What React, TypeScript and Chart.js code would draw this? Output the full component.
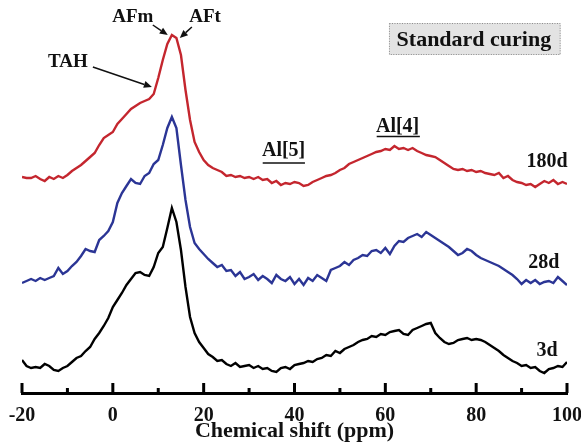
import React, { useEffect, useRef } from "react";
import { Chart, registerables } from "chart.js";

Chart.register(...registerables);

// Chemical shift (ppm) sample positions: -20 .. 100, every 1 ppm
const shifts: number[] = Array.from({ length: 121 }, (_, i) => -20 + i);

// Stacked intensities (arbitrary units, already offset for display)
const series180d: number[] = [
  216, 215, 215, 217, 214, 212, 216, 214, 217, 215,
  218, 222, 225, 228, 232, 236, 240, 248, 255, 258,
  261, 269, 274, 279, 284, 287, 290, 292, 294, 299,
  315, 333, 349, 358, 355, 338, 303, 273, 251, 241,
  233, 228, 225, 223, 221, 217, 218, 216, 217, 215,
  216, 214, 216, 213, 214, 210, 212, 208, 210, 209,
  211, 210, 207, 208, 211, 213, 215, 217, 218, 220,
  223, 225, 229, 231, 233, 235, 237, 239, 241, 242,
  244, 243, 247, 244, 245, 243, 245, 242, 240, 238,
  237, 236, 233, 230, 227, 224, 223, 224, 222, 223,
  221, 222, 220, 219, 218, 220, 215, 217, 213, 211,
  210, 208, 209, 206, 209, 212, 210, 213, 209, 211,
  209,
];

const series28d: number[] = [
  110, 112, 114, 112, 115, 113, 115, 117, 125, 119,
  122, 127, 131, 137, 144, 142, 141, 153, 157, 162,
  171, 190, 200, 207, 214, 210, 209, 217, 220, 229,
  233, 248, 265, 276, 265, 228, 193, 166, 150, 144,
  139, 134, 130, 126, 128, 122, 123, 117, 121, 114,
  116, 119, 113, 117, 114, 110, 118, 114, 112, 116,
  109, 114, 108, 115, 112, 118, 115, 112, 123, 125,
  127, 131, 128, 133, 135, 138, 137, 142, 143, 140,
  145, 139, 147, 152, 151, 155, 157, 159, 156, 161,
  158, 155, 152, 149, 146, 142, 138, 140, 144, 142,
  138, 135, 133, 131, 129, 127, 124, 121, 118, 114,
  109, 113, 110, 113, 109, 111, 112, 110, 116, 112,
  108,
];

const series3d: number[] = [
  33, 27, 25, 26, 25, 29, 27, 23, 22, 25,
  27, 31, 35, 37, 42, 46, 54, 60, 67, 75,
  86, 93, 100, 108, 114, 120, 121, 118, 117, 126,
  140, 146, 165, 185, 171, 143, 106, 76, 60, 51,
  45, 39, 36, 32, 33, 29, 27, 30, 26, 27,
  28, 25, 27, 24, 25, 22, 21, 25, 26, 24,
  28, 29, 30, 32, 31, 34, 35, 38, 37, 42,
  40, 44, 46, 48, 51, 53, 54, 57, 56, 59,
  58, 61, 62, 63, 59, 58, 63, 65, 67, 69,
  70, 60, 55, 51, 49, 50, 53, 54, 55, 53,
  54, 53, 51, 48, 45, 42, 38, 35, 32, 30,
  27, 28, 25, 26, 22, 20, 24, 25, 27, 26,
  31,
];

const seriesNames: string[] = ["180d", "28d", "3d"];
const xTicks: number[] = [-20, 0, 20, 40, 60, 80, 100];
const xMinorTicks: number[] = [-10, 10, 30, 50, 70, 90];
const axisTitle = "Chemical shift (ppm)";
const boxTitle = "Standard curing";

const SERIF = '"Liberation Serif", "Times New Roman", serif';

// Annotation layout (data coordinates)
const textNotes = [
  { text: "AFm", x: 4.4, y: 376, size: 19 },
  { text: "AFt", x: 20.3, y: 376, size: 19 },
  { text: "TAH", x: -9.9, y: 331, size: 19 },
  { text: "Al[5]", x: 37.6, y: 242, size: 20 },
  { text: "Al[4]", x: 62.7, y: 266, size: 20 },
  { text: seriesNames[0], x: 95.6, y: 231, size: 20 },
  { text: seriesNames[1], x: 94.9, y: 130, size: 20 },
  { text: seriesNames[2], x: 95.6, y: 42, size: 20 },
];
const underlines = [
  { x1: 33.0, x2: 42.3, y: 230 },
  { x1: 58.1, x2: 67.6, y: 256.5 },
];
const arrows = [
  { x1: 8.8, y1: 368, x2: 12.1, y2: 358 },
  { x1: 17.4, y1: 366, x2: 14.75, y2: 355 },
  { x1: -4.4, y1: 326, x2: 8.6, y2: 306 },
];
const box = { x1: 60.8, x2: 98.6, y1: 370, y2: 338, tx: 79.5, ty: 353 };

const toPoints = (vals: number[]) => vals.map((v, i) => ({ x: shifts[i], y: v }));

const decorPlugin = {
  id: "decor",
  afterDraw(chart: any) {
    const { ctx, chartArea, scales } = chart;
    const xs = scales.x;
    const ys = scales.y;
    ctx.save();
    // inward ticks
    ctx.strokeStyle = "#000";
    ctx.lineWidth = 3;
    ctx.lineCap = "butt";
    const bottom = chartArea.bottom;
    xTicks.forEach((t) => {
      const px = xs.getPixelForValue(t);
      ctx.beginPath();
      ctx.moveTo(px, bottom);
      ctx.lineTo(px, bottom - 10);
      ctx.stroke();
    });
    xMinorTicks.forEach((t) => {
      const px = xs.getPixelForValue(t);
      ctx.beginPath();
      ctx.moveTo(px, bottom);
      ctx.lineTo(px, bottom - 5);
      ctx.stroke();
    });

    // box
    const bx1 = xs.getPixelForValue(box.x1);
    const bx2 = xs.getPixelForValue(box.x2);
    const by1 = ys.getPixelForValue(box.y1);
    const by2 = ys.getPixelForValue(box.y2);
    ctx.fillStyle = "#e3e3e3";
    ctx.fillRect(bx1, by1, bx2 - bx1, by2 - by1);
    ctx.setLineDash([1, 1.5]);
    ctx.strokeStyle = "#8a8a8a";
    ctx.lineWidth = 1;
    ctx.strokeRect(bx1 + 0.5, by1 + 0.5, bx2 - bx1 - 1, by2 - by1 - 1);
    ctx.setLineDash([]);
    ctx.fillStyle = "#111";
    ctx.font = `bold 22px ${SERIF}`;
    ctx.textAlign = "center";
    ctx.textBaseline = "middle";
    ctx.fillText(boxTitle, xs.getPixelForValue(box.tx), ys.getPixelForValue(box.ty));

    // texts
    textNotes.forEach((n) => {
      ctx.font = `bold ${n.size}px ${SERIF}`;
      ctx.fillText(n.text, xs.getPixelForValue(n.x), ys.getPixelForValue(n.y));
    });

    // underlines
    ctx.strokeStyle = "#111";
    ctx.lineWidth = 1.5;
    underlines.forEach((u) => {
      const y = ys.getPixelForValue(u.y);
      ctx.beginPath();
      ctx.moveTo(xs.getPixelForValue(u.x1), y);
      ctx.lineTo(xs.getPixelForValue(u.x2), y);
      ctx.stroke();
    });

    // arrows
    arrows.forEach((a) => {
      const x1 = xs.getPixelForValue(a.x1);
      const y1 = ys.getPixelForValue(a.y1);
      const x2 = xs.getPixelForValue(a.x2);
      const y2 = ys.getPixelForValue(a.y2);
      const ang = Math.atan2(y2 - y1, x2 - x1);
      const hl = 8;
      const hw = 3.5;
      const bxp = x2 - hl * Math.cos(ang);
      const byp = y2 - hl * Math.sin(ang);
      ctx.strokeStyle = "#111";
      ctx.lineWidth = 1.5;
      ctx.beginPath();
      ctx.moveTo(x1, y1);
      ctx.lineTo(bxp, byp);
      ctx.stroke();
      ctx.fillStyle = "#111";
      ctx.beginPath();
      ctx.moveTo(x2, y2);
      ctx.lineTo(bxp + hw * Math.sin(ang), byp - hw * Math.cos(ang));
      ctx.lineTo(bxp - hw * Math.sin(ang), byp + hw * Math.cos(ang));
      ctx.closePath();
      ctx.fill();
    });
    ctx.restore();
  },
};

export default function App() {
  const canvasRef = useRef<HTMLCanvasElement | null>(null);

  useEffect(() => {
    if (!canvasRef.current) return;
    const chart = new Chart(canvasRef.current, {
      type: "line",
      data: {
        datasets: [
          {
            label: seriesNames[0],
            data: toPoints(series180d),
            borderColor: "#c4262e",
            borderWidth: 2.4,
            pointRadius: 0,
            tension: 0,
          },
          {
            label: seriesNames[1],
            data: toPoints(series28d),
            borderColor: "#2b3595",
            borderWidth: 2.4,
            pointRadius: 0,
            tension: 0,
          },
          {
            label: seriesNames[2],
            data: toPoints(series3d),
            borderColor: "#000000",
            borderWidth: 2.4,
            pointRadius: 0,
            tension: 0,
          },
        ],
      },
      options: {
        animation: false,
        responsive: true,
        maintainAspectRatio: false,
        devicePixelRatio: 1,
        layout: { padding: { left: 22, right: 14, top: 0, bottom: 0 } },
        plugins: { legend: { display: false }, tooltip: { enabled: false } },
        scales: {
          x: {
            type: "linear",
            min: -20,
            max: 100,
            afterFit: (scale: any) => {
              scale.height = 55;
              scale.paddingLeft = 0;
              scale.paddingRight = 0;
            },
            afterBuildTicks: (scale: any) => {
              scale.ticks = xTicks.map((v) => ({ value: v }));
            },
            ticks: {
              color: "#111",
              font: { family: SERIF, size: 20, weight: "bold" },
              padding: 11,
              maxRotation: 0,
              autoSkip: false,
            },
            grid: { display: false, drawTicks: false },
            border: { display: true, color: "#000", width: 3 },
            title: {
              display: true,
              text: axisTitle,
              color: "#111",
              font: { family: SERIF, size: 22, weight: "bold" },
              padding: { top: 0, bottom: 3 },
            },
          },
          y: {
            display: false,
            min: 0,
            max: 393,
          },
        },
      },
      plugins: [decorPlugin],
    } as any);
    return () => chart.destroy();
  }, []);

  return (
    <div style={{ position: "absolute", left: 0, top: 0, width: 581, height: 448, background: "#fff" }}>
      <canvas ref={canvasRef} />
    </div>
  );
}
